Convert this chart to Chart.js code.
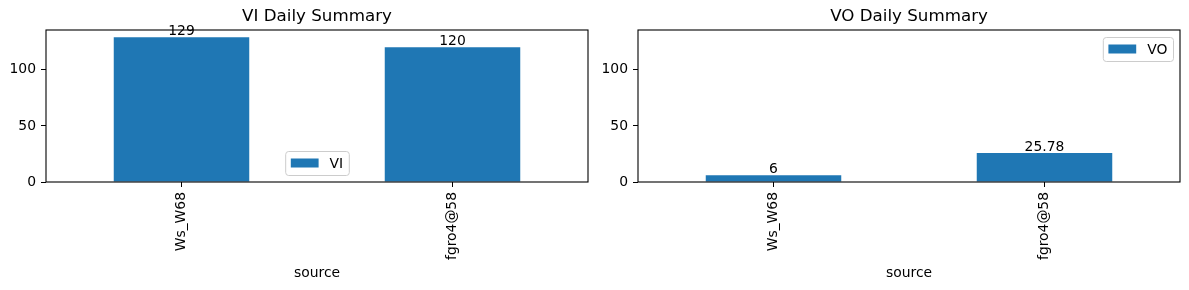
<!DOCTYPE html>
<html>
<head>
<meta charset="utf-8">
<script src="https://cdn.jsdelivr.net/npm/chart.js@4.4.0/dist/chart.umd.min.js"></script>
<style>
  html, body { margin: 0; padding: 0; background: #fff; }
  #wrap { position: relative; width: 1189px; height: 290px; }
  canvas { position: absolute; top: 0; }
  #viChart { left: 0; }
  #voChart { left: 594px; }
</style>
</head>
<body>
<div id="wrap">
  <canvas id="viChart" width="594" height="290"></canvas>
  <canvas id="voChart" width="595" height="290"></canvas>
</div>
<script>
const sources = ["Ws_W68", "fgro4@58"];
const viValues = [129, 120];
const voValues = [6, 25.78];
const yTicks = [0, 50, 100];
const yMax = 135.45;

Chart.defaults.font.family = "'DejaVu Sans', sans-serif";
Chart.defaults.font.size = 13.9;
Chart.defaults.color = "#000";

const barColor = "#1f77b4";

// frame, title, bar labels and legend drawn the matplotlib way
const summaryPlugin = {
  id: "summary",
  afterDraw(chart, args, opts) {
    const ctx = chart.ctx;
    const a = chart.chartArea;
    ctx.save();

    ctx.strokeStyle = "#000";
    ctx.lineWidth = 1.1;
    ctx.strokeRect(a.left, a.top, a.right - a.left, a.bottom - a.top);

    ctx.fillStyle = "#000";
    ctx.textAlign = "center";
    ctx.textBaseline = "middle";
    ctx.font = "16.7px 'DejaVu Sans'";
    ctx.fillText(opts.title, (a.left + a.right) / 2, 17);

    ctx.font = "13.9px 'DejaVu Sans'";
    ctx.textBaseline = "alphabetic";
    const ds = chart.data.datasets[0];
    chart.getDatasetMeta(0).data.forEach((bar, i) => {
      ctx.fillText(String(ds.data[i]), bar.x, bar.y - 2.5);
    });

    const tw = ctx.measureText(ds.label).width;
    const w = 5.6 + 27.8 + 11 + tw + 5.6;
    const h = 24;
    let x, y;
    if (opts.where === "lower center") {
      x = (a.left + a.right) / 2 - w / 2;
      y = a.bottom - 7 - h;
    } else {
      x = a.right - 7 - w;
      y = a.top + 7;
    }
    ctx.fillStyle = "rgba(255,255,255,0.8)";
    ctx.strokeStyle = "#cccccc";
    ctx.lineWidth = 1;
    ctx.beginPath();
    ctx.roundRect(x + 0.5, y + 0.5, w, h, 3);
    ctx.fill();
    ctx.stroke();
    ctx.fillStyle = barColor;
    ctx.fillRect(x + 5.6, y + h / 2 - 4.5, 27.8, 9);
    ctx.fillStyle = "#000";
    ctx.textAlign = "left";
    ctx.textBaseline = "middle";
    ctx.fillText(ds.label, x + 5.6 + 27.8 + 11, y + h / 2 + 1);
    ctx.restore();
  }
};

function createSummaryChart(canvas, title, label, values, where, yAxisWidth, padRight) {
  return new Chart(canvas.getContext("2d"), {
    type: "bar",
    data: {
      labels: sources,
      datasets: [{
        label: label,
        data: values,
        backgroundColor: barColor,
        barPercentage: 0.5,
        categoryPercentage: 1
      }]
    },
    options: {
      responsive: false,
      animation: false,
      layout: { padding: { left: 0, right: padRight, top: 30, bottom: 0 } },
      plugins: {
        legend: { display: false },
        tooltip: { enabled: false },
        title: { display: false },
        summary: { title: title, where: where }
      },
      scales: {
        x: {
          offset: true,
          grid: { drawOnChartArea: false, drawTicks: true, tickLength: 5, color: "#000", offset: false },
          border: { display: false },
          ticks: { minRotation: 90, maxRotation: 90, padding: 5, autoSkip: false },
          title: { display: true, text: "source", padding: { top: 0, bottom: 8 } },
          afterFit(scale) { scale.height = 108; }
        },
        y: {
          min: 0,
          max: yMax,
          grid: { drawOnChartArea: false, drawTicks: true, tickLength: 5, color: "#000" },
          border: { display: false },
          ticks: { padding: 5 },
          afterBuildTicks(scale) { scale.ticks = yTicks.map(v => ({ value: v })); },
          afterFit(scale) { scale.width = yAxisWidth; }
        }
      }
    },
    plugins: [summaryPlugin]
  });
}

createSummaryChart(document.getElementById("viChart"), "VI Daily Summary", "VI", viValues, "lower center", 46, 6);
createSummaryChart(document.getElementById("voChart"), "VO Daily Summary", "VO", voValues, "upper right", 44, 9);
</script>
</body>
</html>
